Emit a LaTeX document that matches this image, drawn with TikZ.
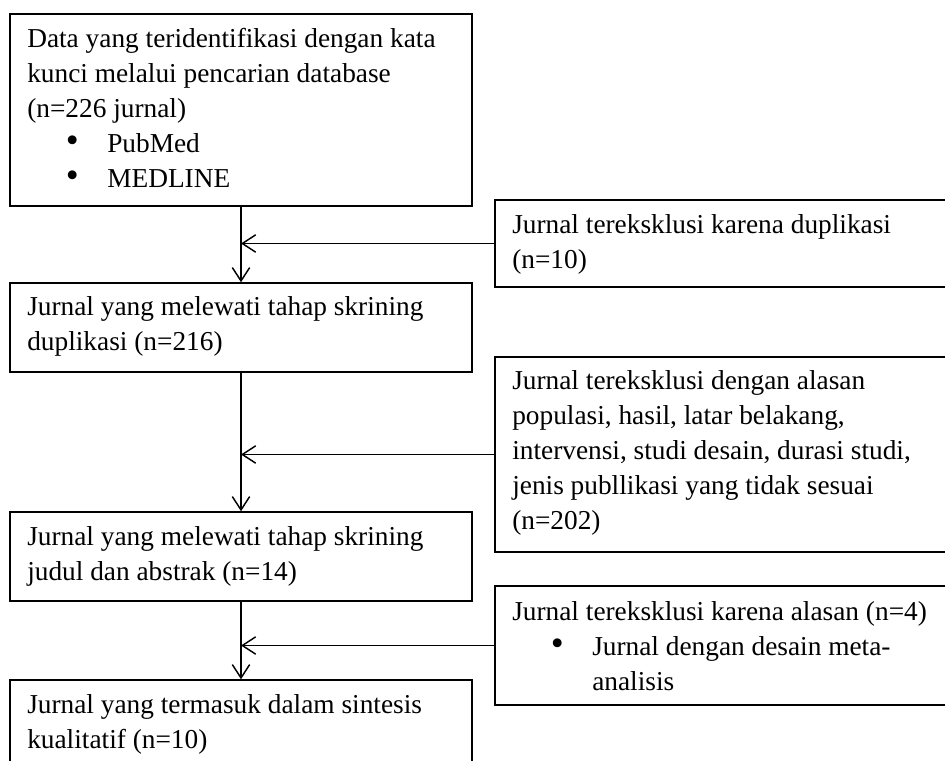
\documentclass[tikz,border=0pt]{standalone}
\usepackage{fontspec}
\usepackage{graphicx}
\setmainfont{Liberation Serif}
\usetikzlibrary{arrows.meta}
\tikzset{
  box/.style={draw=black, line width=1.1pt, rectangle, inner sep=0pt},
  txt/.style={anchor=base west, inner sep=0pt, font=\fontsize{20.5pt}{26.25pt}\selectfont},
  flow/.style={draw=black, line width=1.1pt, -{Straight Barb[length=10pt,width=13pt,line width=1.1pt]}}
}
\newcommand{\bigbul}{\raisebox{-0.6pt}{\scalebox{1.35}{\textbullet}}}
\newcommand{\bul}[1]{\hbox{\hspace*{29pt}\makebox[31pt][l]{\bigbul}#1}}
\newcommand{\ind}[1]{\hbox{\hspace*{60pt}#1}}
\begin{document}
\begin{tikzpicture}[x=0.75pt,y=-0.75pt]
\useasboundingbox (0,0) rectangle (945,760);
\clip (0,0) rectangle (945,760);
% main column boxes
\node[box, minimum width=346.5pt, minimum height=144pt] (b1) at (241,110) {};
\node[box, minimum width=346.5pt, minimum height=66.75pt] (b2) at (241,327.5) {};
\node[box, minimum width=346.5pt, minimum height=66.75pt] (b3) at (241,556.5) {};
\node[box, minimum width=346.5pt, minimum height=82.5pt] (b4) at (241,735) {};
% exclusion boxes
\node[box, minimum width=348.75pt, minimum height=65.25pt] (bA) at (727.5,243.5) {};
\node[box, minimum width=348.75pt, minimum height=146.25pt] (bB) at (727.5,454.5) {};
\node[box, minimum width=348.75pt, minimum height=89.25pt] (bC) at (727.5,645.5) {};
% texts
\node[txt] (t1) at (27,47) {\vtop{\baselineskip=26.25pt
  \hbox{Data yang teridentifikasi dengan kata}
  \hbox{kunci melalui pencarian database}
  \hbox{(n=226 jurnal)}
  \bul{PubMed}
  \bul{MEDLINE}}};
\node[txt] (tA) at (512,233) {\vtop{\baselineskip=26.25pt
  \hbox{Jurnal tereksklusi karena duplikasi}
  \hbox{(n=10)}}};
\node[txt] (t2) at (27,315) {\vtop{\baselineskip=26.25pt
  \hbox{Jurnal yang melewati tahap skrining}
  \hbox{duplikasi (n=216)}}};
\node[txt] (tB) at (512,389) {\vtop{\baselineskip=26.25pt
  \hbox{Jurnal tereksklusi dengan alasan}
  \hbox{populasi, hasil, latar belakang,}
  \hbox{intervensi, studi desain, durasi studi,}
  \hbox{jenis publlikasi yang tidak sesuai}
  \hbox{(n=202)}}};
\node[txt] (t3) at (27,545) {\vtop{\baselineskip=26.25pt
  \hbox{Jurnal yang melewati tahap skrining}
  \hbox{judul dan abstrak (n=14)}}};
\node[txt] (tC) at (512,620) {\vtop{\baselineskip=26.25pt
  \hbox{Jurnal tereksklusi karena alasan (n=4)}
  \bul{Jurnal dengan desain meta-}
  \ind{analisis}}};
\node[txt] (t4) at (27,713) {\vtop{\baselineskip=26.25pt
  \hbox{Jurnal yang termasuk dalam sintesis}
  \hbox{kualitatif (n=10)}}};
% connectors
\draw[flow] (b1.south) -- (b2.north);
\draw[flow] (b2.south) -- (b3.north);
\draw[flow] (b3.south) -- (b4.north);
\draw[flow] (bA.west) -- (bA.west -| b1.south);
\draw[flow] (bB.west) -- (bB.west -| b2.south);
\draw[flow] (bC.west) -- (bC.west -| b3.south);
\end{tikzpicture}
\end{document}
